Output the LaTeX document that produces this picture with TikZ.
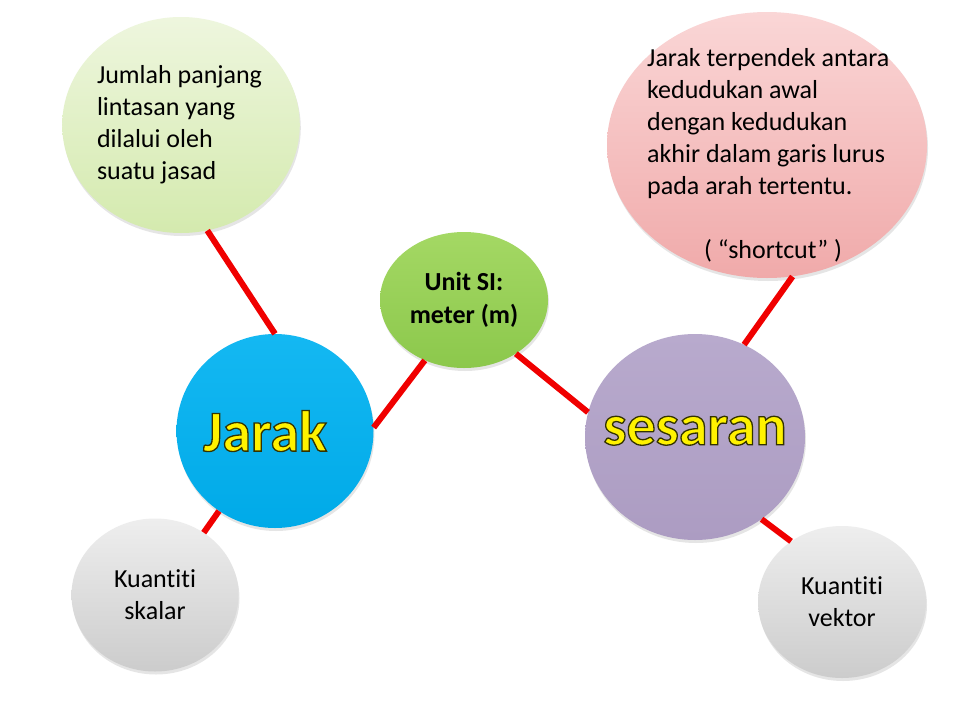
\documentclass[tikz,border=0pt]{standalone}
\usepackage{fontspec}
\setmainfont{Carlito}[Ligatures=NoCommon]
\usepackage{tikz}
\usetikzlibrary{shapes.geometric, shadows}
\definecolor{jumlahtop}{RGB}{238,246,222}
\definecolor{jumlahbot}{RGB}{212,234,174}
\definecolor{deftop}{RGB}{250,214,214}
\definecolor{defbot}{RGB}{240,170,170}
\definecolor{unittop}{RGB}{164,216,100}
\definecolor{unitbot}{RGB}{140,200,76}
\definecolor{jaraktop}{RGB}{20,184,242}
\definecolor{jarakbot}{RGB}{0,170,232}
\definecolor{sesarantop}{RGB}{184,170,205}
\definecolor{sesaranbot}{RGB}{172,156,194}
\definecolor{kuantitop}{RGB}{238,238,238}
\definecolor{kuantibot}{RGB}{204,204,204}
\definecolor{linkred}{RGB}{240,0,0}
\newcommand{\bigword}[1]{\makebox[0pt]{\special{pdf:literal direct 2 Tr 1.3 w 0.2 0.2 0 RG}#1\special{pdf:literal direct 0 Tr}}}
\tikzset{
	bubble/.style={ellipse, inner sep=0pt, drop shadow={opacity=0.2, shadow xshift=1pt, shadow yshift=-3pt}},
	body/.style={font=\fontsize{26}{32}\selectfont},
	heading/.style={font=\fontsize{58}{60}\selectfont\bfseries, text=yellow},
	link/.style={draw=linkred, line width=6pt}
}

\begin{document}
\begin{tikzpicture}[x=1pt, y=-1pt]
\fill[white] (0,0) rectangle (960,720);
\useasboundingbox (0,0) rectangle (960,720);
\node (jumlah) [bubble, body, top color=jumlahtop, bottom color=jumlahbot, minimum width=237pt, minimum height=216pt, text width=168pt, align=flush left] at (181,125) {Jumlah panjang\\lintasan yang\\dilalui oleh\\suatu jasad};
\node (def) [bubble, top color=deftop, bottom color=defbot, minimum width=320pt, minimum height=266pt] at (767,145) {};
\node (deftext) [body, text width=252pt, align=flush left, anchor=north west, inner sep=0pt] at (647,48) {Jarak terpendek antara\\kedudukan awal\\dengan kedudukan\\akhir dalam garis lurus\\pada arah tertentu.\\[32pt]\hspace*{\fill}( “shortcut” )\hspace*{\fill}\mbox{}};
\node (unit) [bubble, font=\fontsize{26}{33}\selectfont\bfseries, align=center, top color=unittop, bottom color=unitbot, minimum width=168pt, minimum height=136pt] at (464,300) {Unit SI:\\meter (m)};
\node (jarak) [bubble, heading, top color=jaraktop, bottom color=jarakbot, minimum width=197pt, minimum height=194pt] at (275,431) {\bigword{Jarak\hspace{20pt}}};
\node (sesaran) [bubble, heading, top color=sesarantop, bottom color=sesaranbot, minimum width=220pt, minimum height=206pt] at (695,437) {\raisebox{13pt}{\bigword{sesaran}}};
\node (skalar) [bubble, body, align=center, top color=kuantitop, bottom color=kuantibot, minimum width=167pt, minimum height=153pt] at (155,595) {Kuantiti\\skalar};
\node (vektor) [bubble, body, align=center, top color=kuantitop, bottom color=kuantibot, minimum width=168pt, minimum height=152pt] at (842,602) {Kuantiti\\vektor};
\draw[link] (jumlah.-76) -- (jarak.90); \draw[link] (jarak.2) -- (unit.-123);
\draw[link] (unit.-46) -- (sesaran.167); \draw[link] (sesaran.62) -- (def.-79);
\draw[link] (jarak.-125) -- (skalar.52); \draw[link] (sesaran.-51) -- (vektor.130);
\end{tikzpicture}
\end{document}
